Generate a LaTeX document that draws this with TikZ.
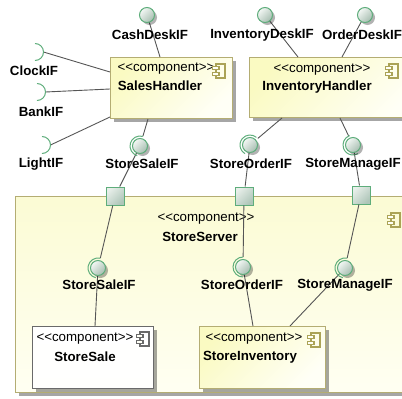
\documentclass[tikz,border=0pt]{standalone}
\usepackage{fontspec}
\newfontfamily\lsans{Liberation Sans}
\usetikzlibrary{shadows,calc}
\definecolor{edgecol}{HTML}{B4AD73}
\definecolor{greycol}{HTML}{6A6A6A}
\definecolor{linecol}{HTML}{555555}
\definecolor{greencol}{HTML}{5EAD7B}
\definecolor{yelA}{HTML}{FAFAC2}
\definecolor{yelB}{HTML}{FFFFF6}
\definecolor{yelC}{HTML}{FBFBD4}
\definecolor{yelD}{HTML}{FFFFF2}
\definecolor{ballA}{HTML}{F3F7F4}
\definecolor{ballB}{HTML}{A6BDB0}
\definecolor{portA}{HTML}{E8EFEA}
\definecolor{portB}{HTML}{AFC6B9}
\definecolor{iconcol}{HTML}{ABA356}
\begin{document}
\begin{tikzpicture}[x=1pt,y=-1pt,
  lbl/.style={font=\lsans\bfseries\fontsize{13.3}{15}\selectfont, inner sep=0pt, text=black},
  stereo/.style={font=\lsans\fontsize{13.3}{15}\selectfont, inner sep=0pt, text=black},
  boxshadow/.style={drop shadow={shadow xshift=3pt, shadow yshift=-3pt, fill=black, opacity=0.35}},
  compbox/.style={rectangle, draw=edgecol, line width=1pt, inner sep=0pt, anchor=north west,
    top color=yelA, bottom color=yelB, shading angle=45, boxshadow},
  conn/.style={draw=linecol, line width=0.9pt},
  sockline/.style={draw=greencol, line width=1pt},
  ball/.style={circle, draw=greencol, line width=1pt, inner sep=0pt, minimum size=15pt,
    top color=ballA, bottom color=ballB, shading angle=45,
    drop shadow={shadow xshift=2.5pt, shadow yshift=-2.5pt, fill=black, opacity=0.3}},
  ring/.style={circle, inner sep=0pt, minimum size=20pt},
  port/.style={rectangle, draw=greencol, line width=1pt, inner sep=0pt, minimum size=18pt,
    top color=portA, bottom color=portB, shading angle=45},
  pics/compicon/.style={code={
    \draw[draw=#1, line width=1.2pt] (-3,-7) rectangle (6,7);
    \draw[draw=#1, line width=1.2pt, fill=yelB] (-6.5,-4.5) rectangle (0,-1.5);
    \draw[draw=#1, line width=1.2pt, fill=yelB] (-6.5,1.5) rectangle (0,4.5);
  }},
  pics/compicon/.default=iconcol
]
\useasboundingbox (0,0) rectangle (402,399);
\clip (0,0) rectangle (402,399);

% ---------- outer components ----------
\node[compbox, minimum width=122pt, minimum height=61pt] (sh) at (110,57) {};
\node[compbox, minimum width=170pt, minimum height=60pt] (ih) at (249,57) {};
\node[stereo] (shst) at (166,69) {<\kern0pt<component>\kern0pt>};
\node[lbl] (shnm) at (160,86) {SalesHandler};
\pic at (219,71) {compicon};
\node[stereo] (ihst) at (322,70) {<\kern0pt<component>\kern0pt>};
\node[lbl] (ihnm) at (317,87) {InventoryHandler};
\pic at (392,71) {compicon};

% ---------- StoreServer ----------
\node[compbox, minimum width=400pt, minimum height=196pt,
      top color=yelC, bottom color=yelD] (ss) at (15,196) {};
\node[stereo] (ssst) at (206,219) {<\kern0pt<component>\kern0pt>};
\node[lbl] (ssnm) at (200,237) {StoreServer};
\pic at (394,220) {compicon};

% inner components
\node[compbox, draw=greycol, minimum width=121pt, minimum height=62pt,
      top color=white, bottom color=white!97!yelA] (ssale) at (32,326) {};
\node[stereo] (ssalest) at (85,339) {<\kern0pt<component>\kern0pt>};
\node[lbl] (ssalenm) at (85,357) {StoreSale};
\pic at (143,339) {compicon=greycol};
\node[compbox, minimum width=126pt, minimum height=62pt] (sinv) at (199,326) {};
\node[stereo] (sinvst) at (254,339) {<\kern0pt<component>\kern0pt>};
\node[lbl] (sinvnm) at (250,357) {StoreInventory};
\pic at (314,340) {compicon};

% ---------- ports on StoreServer ----------
\node[port] (p1) at (115,196) {};
\node[port] (p2) at (244,196) {};
\node[port] (p3) at (361,195) {};

% ---------- interface positions ----------
\coordinate (cdic) at (147,15);
\coordinate (idic) at (265,15);
\coordinate (odic) at (365,15);
\coordinate (ssi1c) at (140,146);
\coordinate (soi1c) at (250,145);
\coordinate (smi1c) at (353,145);
\coordinate (ssi2c) at (98,268);
\coordinate (soi2c) at (243,267);
\coordinate (smi2c) at (345,268);
\node[ring] (ssi1r) at (ssi1c) {};
\node[ring] (soi1r) at (soi1c) {};
\node[ring] (smi1r) at (smi1c) {};
\node[ring] (ssi2r) at (ssi2c) {};
\node[ring] (soi2r) at (soi2c) {};
\node[ring] (smi2r) at (smi2c) {};

% required-interface sockets on SalesHandler
\coordinate (clkc) at (35,52);   \coordinate (clk) at (43.5,52);
\coordinate (bnkc) at (37,92);   \coordinate (bnk) at (45.5,92);
\coordinate (lgtc) at (42,145);  \coordinate (lgt) at (50.5,145);

% ---------- connectors ----------
\draw[conn] (cdic) -- ($(sh.north west)+(50,0)$);
\draw[conn] (idic) -- ($(ih.north west)+(49,0)$);
\draw[conn] (odic) -- ($(ih.north west)+(93,0)$);
\draw[conn] (clk) -- ($(sh.north west)+(0,15)$);
\draw[conn] (bnk) -- ($(sh.north west)+(0,32)$);
\draw[conn] (lgt) -- ($(sh.south west)+(0,-2)$);
\draw[conn] ($(sh.south west)+(38,0)$) -- (ssi1r);
\draw[conn] ($(ih.south west)+(33,0)$) -- (soi1r);
\draw[conn] ($(ih.south west)+(91,0)$) -- (smi1r);
\draw[conn] (ssi1c) -- (p1);
\draw[conn] (soi1c) -- (p2);
\draw[conn] (smi1c) -- (p3);
\draw[conn] (p1) -- (ssi2r);
\draw[conn] (p2) -- (soi2r);
\draw[conn] (p3) -- (smi2r);
\draw[conn] (ssi2c) -- ($(ssale.north west)+(63,0)$);
\draw[conn] (soi2c) -- ($(sinv.north west)+(54,0)$);
\draw[conn] (smi2c) -- ($(sinv.north west)+(91,0)$);

% socket arcs
\draw[sockline] ($(clkc)+(-90:8.5)$) arc[start angle=-90, end angle=90, radius=8.5];
\draw[sockline] ($(bnkc)+(-90:8.5)$) arc[start angle=-90, end angle=90, radius=8.5];
\draw[sockline] ($(lgtc)+(-90:8.5)$) arc[start angle=-90, end angle=90, radius=8.5];
\draw[sockline] ($(ssi1c)+(-74:10)$) arc[start angle=-74, end angle=-254, radius=10];
\draw[sockline] ($(soi1c)+(-50:10)$) arc[start angle=-50, end angle=-240, radius=10];
\draw[sockline] ($(smi1c)+(-110:10)$) arc[start angle=-110, end angle=-300, radius=10];
\draw[sockline] ($(ssi2c)+(-77:10)$) arc[start angle=-77, end angle=-257, radius=10];
\draw[sockline] ($(soi2c)+(-89:10)$) arc[start angle=-89, end angle=-269, radius=10];
\draw[sockline] ($(smi2c)+(-78:10)$) arc[start angle=-78, end angle=-258, radius=10];

% provided-interface balls
\node[ball] (cdi) at (cdic) {};
\node[ball] (idi) at (idic) {};
\node[ball] (odi) at (odic) {};
\node[ball] (ssi1) at (ssi1c) {};
\node[ball] (soi1) at (soi1c) {};
\node[ball] (smi1) at (smi1c) {};
\node[ball] (ssi2) at (ssi2c) {};
\node[ball] (soi2) at (soi2c) {};
\node[ball] (smi2) at (smi2c) {};

% ---------- interface labels ----------
\node[lbl] (cdil) at (150,35) {CashDeskIF};
\node[lbl] (idil) at (262,35) {InventoryDeskIF};
\node[lbl] (odil) at (362,35) {OrderDeskIF};
\node[lbl] (clkl) at (34,71) {ClockIF};
\node[lbl] (bnkl) at (41,112) {BankIF};
\node[lbl] (lgtl) at (41,164) {LightIF};
\node[lbl] (ssi1l) at (142,164) {StoreSaleIF};
\node[lbl] (soi1l) at (251,164) {StoreOrderIF};
\node[lbl] (smi1l) at (353,164) {StoreManageIF};
\node[lbl] (ssi2l) at (99,285) {StoreSaleIF};
\node[lbl] (soi2l) at (242,285) {StoreOrderIF};
\node[lbl] (smi2l) at (345,285) {StoreManageIF};
\end{tikzpicture}
\end{document}
